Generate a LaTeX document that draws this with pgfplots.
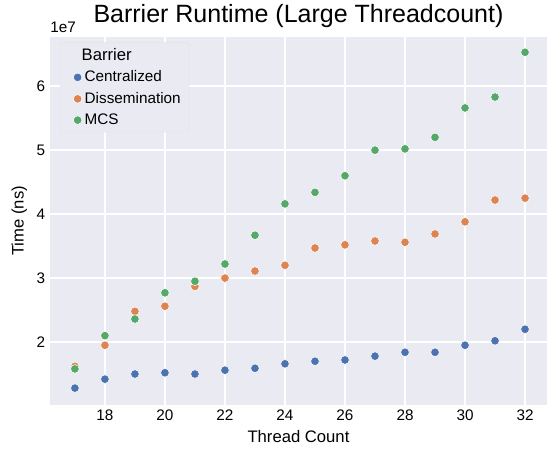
\documentclass[border=0pt]{standalone}
\usepackage{pgfplots}
\pgfplotsset{compat=1.18}
\usepackage{fontspec}
\setmainfont{Liberation Sans}
\definecolor{sbg}{HTML}{EAEAF2}
\definecolor{cb}{HTML}{4C72B0}
\definecolor{co}{HTML}{DD8452}
\definecolor{cg}{HTML}{55A868}
\begin{document}
\begin{tikzpicture}
\useasboundingbox (-36pt,-41.76pt) rectangle (365.76pt,291.6pt);
\begin{axis}[
  at={(0,0)}, anchor=south west,
  scale only axis, width=357.8pt, height=265pt,
  xmin=16.17, xmax=32.73, ymin=1.016, ymax=6.77,
  axis background/.style={fill=sbg},
  axis line style={draw=none},
  grid=major, grid style={white, line width=1pt},
  major tick length=0pt,
  xtick={18,20,...,32}, ytick={2,3,4,5,6},
  /pgf/number format/assume math mode=true,
  tick label style={font=\fontsize{11}{13}\selectfont},
  label style={font=\fontsize{12}{14}\selectfont},
  xlabel={Thread Count}, ylabel={Time (ns)},
  title={Barrier Runtime (Large Threadcount)},
  title style={font=\fontsize{18}{21}\selectfont, yshift=-3pt},
  legend cell align=left,
  legend style={at={(0.02,0.985)}, anchor=north west, fill=sbg, draw=white!80!gray, rounded corners=2pt, font=\fontsize{11}{13}\selectfont, row sep=2pt, inner xsep=4pt},
  clip=false,
]
\addlegendimage{empty legend}
\addlegendentry{\hspace{-0.2em}\fontsize{12}{14}\selectfont Barrier}
\addplot[only marks, mark=*, mark size=3.1pt, mark options={fill=cb, draw=white, line width=0.4pt}] coordinates {
(17,1.28)(18,1.42)(19,1.50)(20,1.52)(21,1.50)(22,1.56)(23,1.59)(24,1.66)(25,1.70)(26,1.72)(27,1.78)(28,1.84)(29,1.84)(30,1.95)(31,2.02)(32,2.20)};
\addlegendentry{Centralized}
\addplot[only marks, mark=*, mark size=3.1pt, mark options={fill=co, draw=white, line width=0.4pt}] coordinates {
(17,1.62)(18,1.95)(19,2.48)(20,2.56)(21,2.87)(22,3.00)(23,3.11)(24,3.20)(25,3.47)(26,3.52)(27,3.58)(28,3.56)(29,3.69)(30,3.88)(31,4.22)(32,4.25)};
\addlegendentry{Dissemination}
\addplot[only marks, mark=*, mark size=3.1pt, mark options={fill=cg, draw=white, line width=0.4pt}] coordinates {
(17,1.58)(18,2.10)(19,2.36)(20,2.77)(21,2.95)(22,3.22)(23,3.67)(24,4.16)(25,4.34)(26,4.60)(27,5.00)(28,5.02)(29,5.20)(30,5.66)(31,5.83)(32,6.53)};
\addlegendentry{MCS}
\node[anchor=south west, font=\fontsize{11}{13}\selectfont, inner sep=0pt] at (rel axis cs:0,1.01) {1e7};
\end{axis}
\end{tikzpicture}
\end{document}
